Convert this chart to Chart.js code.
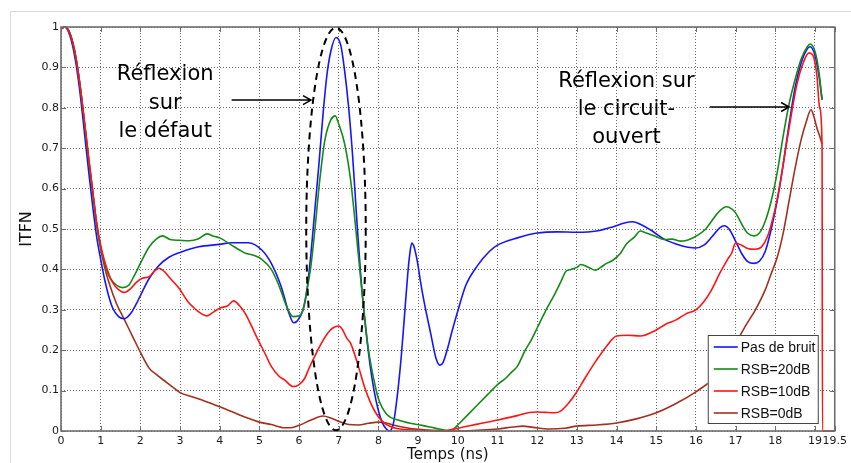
<!DOCTYPE html>
<html>
<head>
<meta charset="utf-8">
<script src="https://cdn.jsdelivr.net/npm/chart.js@4/dist/chart.umd.min.js"></script>
<style>
  html, body { margin:0; padding:0; background:#fff; }
  #wrap { width:851px; height:463px; }
</style>
</head>
<body>
<div id="wrap"><canvas id="c" width="851" height="463"></canvas></div>
<script>
/* ITFN vs time: reflectometry traces at several noise levels */

const xTicks = [0,1,2,3,4,5,6,7,8,9,10,11,12,13,14,15,16,17,18,19,19.5];
const yTicks = [0,0.1,0.2,0.3,0.4,0.5,0.6,0.7,0.8,0.9,1];

const seriesNames = ['Pas de bruit','RSB=20dB','RSB=10dB','RSB=0dB'];
const seriesColors = ['#1414ff','#158a15','#ff1414','#a2301f'];

// Pas de bruit
const tBlue = [0,0.1,0.2,0.3,0.4,0.5,0.6,0.7,0.8,0.9,1.0,1.1,1.2,1.3,1.45,1.6,1.75,1.9,2.05,2.225,2.45,2.72,3.0,3.47,4.0,4.3,4.72,5.06,5.3,5.55,5.75,5.86,5.95,6.1,6.2,6.3,6.4,6.5,6.6,6.7,6.8,6.93,7.05,7.15,7.25,7.35,7.45,7.55,7.65,7.78,7.89,8.0,8.1,8.2,8.28,8.38,8.49,8.58,8.66,8.74,8.78,8.84,8.9,8.98,9.06,9.15,9.32,9.45,9.55,9.63,9.73,9.85,9.98,10.2,10.5,10.8,11.0,11.5,12.0,12.5,13.0,13.5,13.9,14.2,14.4,14.6,14.9,15.2,15.5,15.8,16.0,16.2,16.4,16.6,16.72,16.85,17.0,17.15,17.3,17.47,17.6,17.75,17.9,18.05,18.2,18.35,18.5,18.65,18.8,18.88,19.0,19.1,19.18];
const vBlue = [0.995,1.0,0.985,0.95,0.895,0.82,0.73,0.64,0.555,0.48,0.425,0.375,0.335,0.305,0.283,0.278,0.29,0.315,0.345,0.378,0.408,0.43,0.442,0.456,0.462,0.466,0.466,0.448,0.415,0.357,0.29,0.268,0.272,0.30,0.35,0.44,0.55,0.66,0.78,0.88,0.94,0.974,0.955,0.89,0.80,0.68,0.53,0.39,0.28,0.17,0.10,0.05,0.02,0.005,0.0,0.02,0.10,0.19,0.29,0.39,0.43,0.465,0.455,0.42,0.37,0.32,0.24,0.18,0.163,0.17,0.20,0.245,0.29,0.36,0.41,0.445,0.46,0.478,0.49,0.493,0.492,0.495,0.505,0.515,0.518,0.512,0.495,0.475,0.463,0.455,0.453,0.46,0.48,0.503,0.508,0.498,0.47,0.44,0.42,0.415,0.42,0.445,0.50,0.57,0.66,0.76,0.85,0.91,0.945,0.951,0.93,0.88,0.82];

// RSB=20dB
const tGreen = [0,0.1,0.2,0.3,0.4,0.5,0.6,0.7,0.8,0.9,1.0,1.1,1.2,1.35,1.55,1.7,1.85,2.0,2.225,2.4,2.56,2.75,3.0,3.23,3.45,3.68,3.85,4.0,4.3,4.5,4.65,4.85,5.06,5.3,5.45,5.55,5.7,5.85,6.0,6.1,6.2,6.3,6.4,6.52,6.65,6.8,6.91,7.0,7.15,7.3,7.45,7.6,7.75,7.9,8.0,8.22,8.5,8.8,9.1,9.3,9.53,9.75,9.9,10.0,10.25,10.5,10.75,11.0,11.2,11.35,11.5,11.7,11.85,12.0,12.2,12.45,12.6,12.72,12.85,13.0,13.1,13.3,13.47,13.6,13.75,13.9,14.1,14.25,14.45,14.6,14.75,14.98,15.2,15.4,15.6,15.8,16.05,16.25,16.4,16.6,16.77,16.9,17.0,17.14,17.3,17.47,17.6,17.75,17.9,18.05,18.2,18.35,18.5,18.65,18.8,18.88,19.0,19.1,19.18];
const vGreen = [0.995,1.0,0.99,0.96,0.91,0.84,0.755,0.67,0.59,0.51,0.455,0.415,0.385,0.365,0.355,0.36,0.385,0.415,0.456,0.475,0.483,0.474,0.472,0.471,0.475,0.488,0.482,0.478,0.46,0.448,0.44,0.435,0.425,0.40,0.37,0.345,0.305,0.283,0.285,0.30,0.35,0.41,0.50,0.62,0.72,0.77,0.78,0.76,0.71,0.62,0.48,0.33,0.20,0.12,0.08,0.04,0.027,0.019,0.014,0.01,0.005,0.001,0.005,0.015,0.04,0.065,0.09,0.115,0.13,0.145,0.16,0.20,0.225,0.255,0.295,0.34,0.37,0.395,0.40,0.405,0.412,0.405,0.398,0.405,0.415,0.422,0.44,0.463,0.48,0.495,0.49,0.482,0.474,0.475,0.47,0.473,0.485,0.50,0.52,0.545,0.555,0.55,0.54,0.515,0.49,0.483,0.49,0.52,0.57,0.64,0.73,0.81,0.87,0.92,0.95,0.958,0.94,0.89,0.82];

// RSB=10dB
const tRed = [0,0.1,0.2,0.3,0.4,0.5,0.6,0.7,0.8,0.9,1.0,1.1,1.2,1.3,1.45,1.6,1.75,1.9,2.05,2.225,2.35,2.47,2.6,2.75,2.97,3.2,3.35,3.47,3.68,3.85,4.0,4.2,4.35,4.5,4.65,4.8,4.97,5.15,5.3,5.5,5.64,5.85,6.0,6.14,6.25,6.39,6.55,6.72,6.85,7.0,7.1,7.2,7.3,7.47,7.68,7.89,8.14,8.47,9.0,9.6,10.0,10.5,11.0,11.5,11.8,12.0,12.2,12.45,12.6,12.8,12.98,13.2,13.5,13.75,14.0,14.3,14.6,15.0,15.25,15.5,15.75,16.0,16.2,16.4,16.6,16.8,16.9,17.0,17.15,17.3,17.5,17.65,17.8,17.95,18.1,18.25,18.4,18.55,18.7,18.85,18.95,19.05,19.12,19.18,19.19,19.5];
const vRed = [0.995,1.0,0.99,0.96,0.91,0.84,0.76,0.675,0.595,0.515,0.46,0.42,0.39,0.368,0.35,0.343,0.352,0.368,0.378,0.382,0.395,0.403,0.395,0.378,0.354,0.32,0.305,0.295,0.285,0.295,0.304,0.31,0.322,0.31,0.29,0.26,0.225,0.19,0.16,0.135,0.126,0.11,0.115,0.13,0.155,0.184,0.215,0.242,0.255,0.26,0.25,0.23,0.217,0.168,0.10,0.052,0.02,0.006,0.002,0.0,0.007,0.017,0.027,0.038,0.046,0.047,0.046,0.045,0.05,0.07,0.094,0.13,0.176,0.21,0.235,0.237,0.235,0.25,0.265,0.275,0.29,0.30,0.32,0.35,0.39,0.425,0.44,0.465,0.46,0.452,0.45,0.455,0.48,0.53,0.60,0.69,0.78,0.86,0.91,0.936,0.93,0.88,0.80,0.71,0,0];

// RSB=0dB
const tBrown = [0,0.1,0.2,0.3,0.4,0.5,0.6,0.7,0.8,0.9,1.0,1.1,1.2,1.4,1.6,1.8,2.0,2.225,2.4,2.6,2.8,3.0,3.3,3.6,4.0,4.3,4.6,5.0,5.3,5.64,5.8,6.0,6.3,6.6,6.8,7.0,7.25,7.5,7.75,8.0,8.2,8.4,8.7,9.0,9.5,10.0,10.5,11.0,11.4,11.64,11.9,12.3,12.7,13.0,13.5,14.0,14.5,15.0,15.5,16.0,16.5,16.8,17.0,17.25,17.5,17.75,17.9,18.05,18.2,18.35,18.5,18.65,18.78,18.9,18.97,19.05,19.12,19.18];
const vBrown = [0.995,1.0,0.99,0.96,0.91,0.84,0.755,0.67,0.59,0.51,0.45,0.405,0.37,0.315,0.275,0.235,0.195,0.155,0.14,0.125,0.11,0.095,0.085,0.075,0.06,0.048,0.036,0.022,0.016,0.008,0.008,0.014,0.027,0.037,0.032,0.024,0.016,0.015,0.019,0.022,0.02,0.014,0.008,0.004,0.001,0.0,0.002,0.005,0.01,0.012,0.009,0.005,0.007,0.012,0.015,0.02,0.03,0.045,0.068,0.097,0.134,0.17,0.215,0.26,0.30,0.35,0.39,0.43,0.49,0.57,0.65,0.72,0.765,0.795,0.78,0.75,0.73,0.71];

const seriesT = [tBlue, tGreen, tRed, tBrown];
const seriesV = [vBlue, vGreen, vRed, vBrown];
const drawOrder = [3, 2, 1, 4]; // larger = drawn earlier

const FONT = '"DejaVu Sans", sans-serif';
const FRAME = '#6e6e6e';

function pts(ts, vs){ return ts.map((t,i)=>({x:t, y:vs[i]})); }

const datasets = seriesNames.map((name,i)=>({
  label: name,
  data: pts(seriesT[i], seriesV[i]),
  borderColor: seriesColors[i],
  backgroundColor: seriesColors[i],
  borderWidth: 1.6,
  pointRadius: 0,
  cubicInterpolationMode: 'monotone',
  order: drawOrder[i],
  clip: 3
}));

function arrow(ctx, x1, y1, x2, y2){
  ctx.beginPath();
  ctx.moveTo(x1,y1); ctx.lineTo(x2,y2);
  ctx.moveTo(x2-8,y2-4.5); ctx.lineTo(x2,y2); ctx.lineTo(x2-8,y2+4.5);
  ctx.stroke();
}

const decor = {
  id:'decor',
  beforeDraw(chart){
    const ctx = chart.ctx;
    ctx.save();
    ctx.fillStyle = '#fff';
    ctx.fillRect(0,0,chart.width,chart.height);
    ctx.strokeStyle = '#dadada';
    ctx.lineWidth = 1;
    ctx.strokeRect(10.5, 11.5, chart.width+20, chart.height+20);
    ctx.restore();
  },
  afterDatasetsDraw(chart){
    const {ctx, chartArea:a, scales:{x, y}} = chart;
    ctx.save();
    ctx.strokeStyle = FRAME;
    ctx.lineWidth = 1;
    // inward tick marks
    ctx.beginPath();
    xTicks.forEach(v=>{
      const px = Math.round(x.getPixelForValue(v))+0.5;
      ctx.moveTo(px, a.bottom); ctx.lineTo(px, a.bottom-5);
      ctx.moveTo(px, a.top); ctx.lineTo(px, a.top+5);
    });
    yTicks.forEach(v=>{
      const py = Math.round(y.getPixelForValue(v))+0.5;
      ctx.moveTo(a.left, py); ctx.lineTo(a.left+5, py);
      ctx.moveTo(a.right, py); ctx.lineTo(a.right-5, py);
    });
    ctx.stroke();
    ctx.lineWidth = 1.6;
    ctx.strokeRect(a.left, a.top, a.right-a.left, a.bottom-a.top);
    ctx.restore();
  },
  afterDraw(chart){
    const {ctx, chartArea:a, scales:{x, y}} = chart;
    ctx.save();
    // axis titles
    ctx.fillStyle = '#111';
    ctx.font = '15px ' + FONT;
    ctx.textAlign = 'center';
    ctx.textBaseline = 'middle';
    ctx.fillText('Temps (ns)', (a.left+a.right)/2, 455);
    ctx.save();
    ctx.translate(27, (a.top+a.bottom)/2);
    ctx.rotate(-Math.PI/2);
    ctx.font = '16px ' + FONT;
    ctx.fillText('ITFN', 0, 0);
    ctx.restore();

    // dashed ellipse round the defect reflection
    const cx = x.getPixelForValue(6.93), cy = y.getPixelForValue(0.5);
    const rx = x.getPixelForValue(7.68) - cx, ry = cy - y.getPixelForValue(0.998);
    ctx.strokeStyle = '#000';
    ctx.lineWidth = 2;
    ctx.setLineDash([7,5]);
    ctx.beginPath();
    ctx.ellipse(cx, cy, rx, ry, 0, 0, Math.PI*2);
    ctx.stroke();
    ctx.setLineDash([]);

    // annotations
    ctx.fillStyle = '#000';
    ctx.font = '21px ' + FONT;
    ctx.textBaseline = 'alphabetic';
    const lx = x.getPixelForValue(2.625);
    ['Réflexion','sur','le défaut'].forEach((s,i)=>
      ctx.fillText(s, lx, y.getPixelForValue([0.869,0.798,0.728][i])));
    const rxp = x.getPixelForValue(14.25);
    ['Réflexion sur','le circuit-','ouvert'].forEach((s,i)=>
      ctx.fillText(s, rxp, y.getPixelForValue([0.851,0.782,0.713][i])));
    ctx.lineWidth = 1.5;
    const ay1 = y.getPixelForValue(0.819);
    arrow(ctx, x.getPixelForValue(4.3), ay1, x.getPixelForValue(6.3), ay1);
    const ay2 = y.getPixelForValue(0.802);
    arrow(ctx, x.getPixelForValue(16.35), ay2, x.getPixelForValue(18.35), ay2);

    // legend box
    const bx = a.right-127, by = a.bottom-96, bw = 110, bh = 88;
    ctx.fillStyle = '#fff';
    ctx.fillRect(bx, by, bw, bh);
    ctx.strokeStyle = '#444';
    ctx.lineWidth = 1;
    ctx.strokeRect(bx+0.5, by+0.5, bw, bh);
    ctx.font = '14px "Liberation Sans", Arial, sans-serif';
    ctx.textAlign = 'left';
    ctx.textBaseline = 'middle';
    seriesNames.forEach((n,i)=>{
      const ry2 = by + 12 + i*22;
      ctx.strokeStyle = seriesColors[i];
      ctx.lineWidth = 1.6;
      ctx.beginPath(); ctx.moveTo(bx+6, ry2); ctx.lineTo(bx+30, ry2); ctx.stroke();
      ctx.fillStyle = '#111';
      ctx.fillText(n, bx+33, ry2+1);
    });
    ctx.restore();
  }
};

const gridOpts = { color:'#6f6f6f', lineWidth:1, drawTicks:false, borderDash:[1,2] };

new Chart(document.getElementById('c'), {
  type:'line',
  data:{ datasets },
  options:{
    responsive:false,
    animation:false,
    devicePixelRatio:1,
    layout:{ padding:{ top:27, right:10, left:0, bottom:0 } },
    plugins:{ legend:{display:false}, tooltip:{enabled:false} },
    scales:{
      x:{
        type:'linear', min:0, max:19.5,
        afterBuildTicks: s => { s.ticks = xTicks.map(v=>({value:v})); },
        afterFit: s => { s.height = 32; },
        ticks:{ autoSkip:false, maxRotation:0, padding:4, color:'#1a1a1a',
                font:{family:'"DejaVu Sans"', size:11},
                callback: v => String(v) },
        grid: gridOpts,
        border:{ display:false, dash:[1,2] }
      },
      y:{
        type:'linear', min:0, max:1,
        afterBuildTicks: s => { s.ticks = yTicks.map(v=>({value:v})); },
        afterFit: s => { s.width = 61; },
        ticks:{ padding:2, color:'#1a1a1a',
                font:{family:'"DejaVu Sans"', size:11},
                callback: v => String(Number(v.toFixed(1))) },
        grid: gridOpts,
        border:{ display:false, dash:[1,2] }
      }
    }
  },
  plugins:[decor]
});
</script>
</body>
</html>
